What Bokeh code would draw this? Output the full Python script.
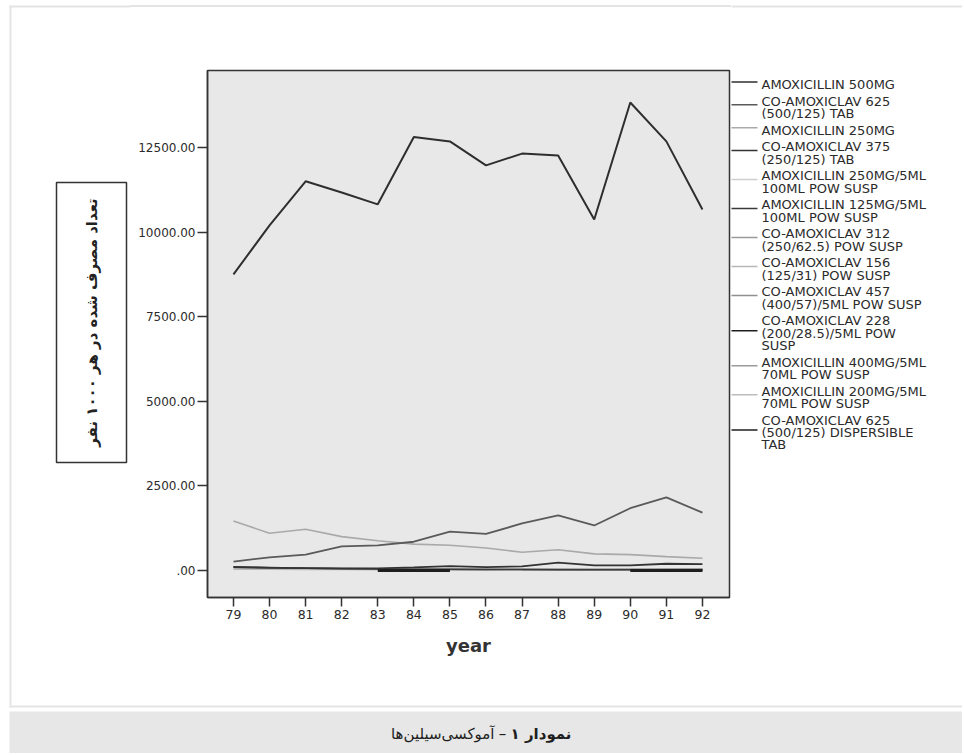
import math
from bokeh.plotting import figure
from bokeh.models import Range1d, FixedTicker
from bokeh.layouts import row, column
from bokeh.embed import file_html
from bokeh.resources import INLINE
from bokeh.core.properties import value

NaN = float("nan")

# ---------------- data ----------------
years = [79, 80, 81, 82, 83, 84, 85, 86, 87, 88, 89, 90, 91, 92]
year_labels = ["79", "80", "81", "82", "83", "84", "85", "86", "87", "88", "89", "90", "91", "92"]
y_tick_values = [0, 2500, 5000, 7500, 10000, 12500]
y_tick_labels = [".00", "2500.00", "5000.00", "7500.00", "10000.00", "12500.00"]

amoxicillin_500mg = [8750, 10200, 11500, 11170, 10820, 12810, 12680, 11970, 12320, 12260, 10370, 13830, 12680, 10670]
co_amoxiclav_625_tab = [260, 390, 470, 715, 745, 850, 1150, 1080, 1390, 1630, 1330, 1840, 2160, 1710]
amoxicillin_250mg = [1460, 1100, 1220, 1000, 880, 780, 745, 665, 540, 615, 490, 470, 410, 360]
co_amoxiclav_375_tab = [100, 80, 70, 60, 60, 90, 130, 100, 120, 230, 150, 150, 200, 190]
amoxicillin_250_susp = [60, 55, 50, 45, 40, 35, 35, 30, 30, 25, 25, 20, 20, 20]
amoxicillin_125_susp = [110, 90, 70, 55, 45, 40, 35, 30, 30, 25, 20, 20, 15, 15]
co_amoxiclav_312_susp = [90, 80, 70, 60, 50, 45, 40, 40, 35, 35, 30, 30, 25, 25]
co_amoxiclav_156_susp = [40, 35, 30, 30, 25, 25, 20, 20, 20, 15, 15, 15, 10, 10]
co_amoxiclav_457_susp = [NaN, NaN, NaN, NaN, NaN, NaN, 20, 25, 30, 35, 40, 40, 45, 45]
co_amoxiclav_228_susp = [NaN, NaN, NaN, NaN, NaN, NaN, NaN, NaN, NaN, NaN, NaN, 0, 0, 0]
amoxicillin_400_susp = [NaN, NaN, NaN, NaN, NaN, NaN, NaN, NaN, 15, 20, 25, 30, 30, 35]
amoxicillin_200_susp = [NaN, NaN, NaN, NaN, NaN, NaN, NaN, NaN, NaN, 10, 15, 15, 20, 20]
co_amoxiclav_625_disp = [NaN, NaN, NaN, NaN, 0, 0, 0, NaN, NaN, NaN, NaN, NaN, NaN, NaN]

drug_names = [
    "AMOXICILLIN 500MG",
    "CO-AMOXICLAV 625\n(500/125) TAB",
    "AMOXICILLIN 250MG",
    "CO-AMOXICLAV 375\n(250/125) TAB",
    "AMOXICILLIN 250MG/5ML\n100ML POW SUSP",
    "AMOXICILLIN 125MG/5ML\n100ML POW SUSP",
    "CO-AMOXICLAV 312\n(250/62.5) POW SUSP",
    "CO-AMOXICLAV 156\n(125/31) POW SUSP",
    "CO-AMOXICLAV 457\n(400/57)/5ML POW SUSP",
    "CO-AMOXICLAV 228\n(200/28.5)/5ML POW\nSUSP",
    "AMOXICILLIN 400MG/5ML\n70ML POW SUSP",
    "AMOXICILLIN 200MG/5ML\n70ML POW SUSP",
    "CO-AMOXICLAV 625\n(500/125) DISPERSIBLE\nTAB",
]
drug_values = [
    amoxicillin_500mg, co_amoxiclav_625_tab, amoxicillin_250mg, co_amoxiclav_375_tab,
    amoxicillin_250_susp, amoxicillin_125_susp, co_amoxiclav_312_susp, co_amoxiclav_156_susp,
    co_amoxiclav_457_susp, co_amoxiclav_228_susp, amoxicillin_400_susp, amoxicillin_200_susp,
    co_amoxiclav_625_disp,
]

y_label_text = "تعداد مصرف شده در هر ۱۰۰۰ نفر"
x_label_text = "year"
caption_bold = "نمودار ۱"
caption_dash = "–"
caption_rest = "آموکسی‌سیلین‌ها"

# ---------------- styles ----------------
line_colors = ["#2e2e2e", "#5a5a5a", "#a9a9a9", "#333333", "#cfcfcf", "#3a3a3a", "#9a9a9a",
               "#b8b8b8", "#8f8f8f", "#1e1e1e", "#9a9a9a", "#bdbdbd", "#1e1e1e"]
line_widths = [2.0, 1.8, 1.6, 1.8, 1.5, 1.5, 1.6, 1.5, 1.5, 3.0, 1.5, 1.5, 3.0]
draw_order = [4, 7, 11, 6, 8, 10, 5, 2, 1, 3, 9, 12, 0]

FONT = value("DejaVu Sans")
TXT = "#2b2b2b"
CARD = "#e4e4e4"

# page geometry (page pixel coordinates; canvas origin = page origin)
ROW_H = 705
LEFT_W = 130
MAIN_W = 601
RIGHT_X0, RIGHT_W = 731, 231
CAP_Y0, CAP_H = 705, 48


def deco(x0, w, y0, h):
    f = figure(width=w, height=h, output_backend="svg", toolbar_location=None,
               x_range=Range1d(x0, x0 + w), y_range=Range1d(y0 + h, y0),
               x_axis_location=None, y_axis_location=None, frame_align=False,
               min_border=0, min_border_left=0, min_border_right=0,
               min_border_top=0, min_border_bottom=0)
    f.grid.visible = False
    f.outline_line_color = None
    f.background_fill_color = "white"
    f.border_fill_color = "white"
    return f


# ---------------- left panel: card edge + boxed y label ----------------
left = deco(0, LEFT_W, 0, ROW_H)
left.quad(left=[9], right=[11], top=[5], bottom=[ROW_H], fill_color=CARD, line_color=None)
left.quad(left=[9], right=[LEFT_W], top=[5], bottom=[7], fill_color=CARD, line_color=None)
left.quad(left=[56], right=[126], top=[182], bottom=[462], fill_color="white",
          line_color="#333333", line_width=1.5)
left.text(x=[91], y=[322], text=[y_label_text], angle=math.pi / 2,
          text_align="center", text_baseline="middle", text_font=FONT,
          text_font_style="bold", text_font_size="15px", text_color="#222222")

# ---------------- main plot ----------------
p = figure(width=MAIN_W, height=ROW_H, output_backend="svg", toolbar_location=None,
           x_range=Range1d(78.28, 92.75), y_range=Range1d(-798, 14775), frame_align=False,
           min_border_left=77, min_border_right=2, min_border_top=70, min_border_bottom=108,
           styles={"background": "linear-gradient(#e4e4e4, #e4e4e4) 0px 5px / 100% 2px no-repeat, white"})
p.grid.visible = False
p.background_fill_color = "#e8e8e8"
p.border_fill_alpha = 0
p.outline_line_color = "#333333"
p.outline_line_width = 1.5

for i in draw_order:
    p.line(years, drug_values[i], line_color=line_colors[i], line_width=line_widths[i])

p.xaxis.ticker = FixedTicker(ticks=years)
p.xaxis.major_label_overrides = {y: l for y, l in zip(years, year_labels)}
p.yaxis.ticker = FixedTicker(ticks=y_tick_values)
p.yaxis.major_label_overrides = {v: l for v, l in zip(y_tick_values, y_tick_labels)}
for ax in (p.xaxis, p.yaxis):
    ax.axis_line_color = "#333333"
    ax.axis_line_width = 1.5
    ax.major_tick_line_color = "#333333"
    ax.major_tick_line_width = 1.5
    ax.major_tick_in = 0
    ax.minor_tick_line_color = None
    ax.major_label_text_font = "DejaVu Sans"
    ax.major_label_text_color = TXT
p.xaxis.major_tick_out = 9
p.xaxis.major_label_standoff = 3
p.xaxis.major_label_text_font_size = "12.5px"
p.yaxis.major_tick_out = 10
p.yaxis.major_label_standoff = 2
p.yaxis.major_label_text_font_size = "12px"
p.xaxis.axis_label = x_label_text
p.xaxis.axis_label_text_font = "DejaVu Sans"
p.xaxis.axis_label_text_font_style = "bold"
p.xaxis.axis_label_text_font_size = "18px"
p.xaxis.axis_label_text_color = "#333333"
p.xaxis.axis_label_standoff = 13

# ---------------- right panel: legend ----------------
right = deco(RIGHT_X0, RIGHT_W, 0, ROW_H)
right.quad(left=[RIGHT_X0], right=[RIGHT_X0 + RIGHT_W], top=[5], bottom=[7], fill_color=CARD, line_color=None)
LINE_PITCH = 12.3
ENTRY_GAP = 16.7
first_y = 84.0
tx, ty, tt = [], [], []
sx0, sx1, sy, sc = [], [], [], []
for name, col in zip(drug_names, line_colors):
    parts = name.split("\n")
    for k, part in enumerate(parts):
        tx.append(761)
        ty.append(first_y + k * LINE_PITCH)
        tt.append(part)
    sample_y = first_y + (len(parts) - 1) * LINE_PITCH / 2 - 2.5
    sx0.append(RIGHT_X0 - 2)
    sx1.append(757)
    sy.append(sample_y)
    sc.append(col)
    first_y += (len(parts) - 1) * LINE_PITCH + ENTRY_GAP
right.segment(x0=sx0, x1=sx1, y0=sy, y1=sy, line_color=sc, line_width=1.5)
right.text(x=tx, y=ty, text=tt, text_align="left", text_baseline="middle",
           text_font=FONT, text_font_size="13px", text_color=TXT)

# ---------------- caption ----------------
cap = deco(0, LEFT_W + MAIN_W + RIGHT_W, CAP_Y0, CAP_H)
cap.quad(left=[9], right=[11], top=[CAP_Y0], bottom=[707], fill_color=CARD, line_color=None)
cap.quad(left=[9], right=[LEFT_W + MAIN_W + RIGHT_W], top=[704], bottom=[707], fill_color=CARD, line_color=None)
cap.quad(left=[9], right=[LEFT_W + MAIN_W + RIGHT_W], top=[711], bottom=[CAP_Y0 + CAP_H],
         fill_color="#e6e7e6", line_color=None)
cap.text(x=[571], y=[733], text=[caption_bold], text_align="right", text_baseline="middle",
         text_font=FONT, text_font_style="bold", text_font_size="15px", text_color="#1e1e1e")
cap.text(x=[502], y=[733], text=[caption_dash], text_align="center", text_baseline="middle",
         text_font=FONT, text_font_size="15px", text_color="#1e1e1e")
cap.text(x=[494], y=[733], text=[caption_rest], text_align="right", text_baseline="middle",
         text_font=FONT, text_font_size="15px", text_color="#1e1e1e")

layout = column(row(left, p, right), cap)
open("out.html", "w").write(file_html(layout, INLINE))
